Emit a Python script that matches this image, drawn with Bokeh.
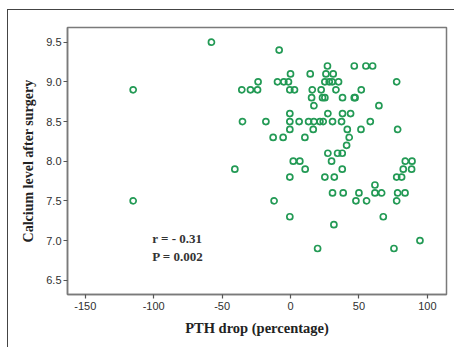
from bokeh.plotting import figure
from bokeh.models import ColumnDataSource, Range1d, FixedTicker, Label
from bokeh.embed import file_html
from bokeh.resources import INLINE

# PTH drop (%) and calcium level after surgery
pth_drop = [-57.8, -8.3, -115, -115, 46.6, 55.1, 60, 27,
            0, 14.4, 25.9, 31.2,
            -23.7, -9.5, -4.9, -1.5, 25.1, 28.3, 30.5, 35.1, 77.6,
            -35.6, -29.3, -24.1, -0.5, 2.9, 15.9, 22.4, 33.2, 51.7,
            15.4, 23.4, 25.1, 38, 46.6, 47.2,
            17.1, 64.6,
            -0.5, 27.3, 38, 43.9,
            -35.1, -18, -0.5, 6.3, 13.2, 17.1, 21.5, 23.9, 30.7, 37.3, 58.3,
            -0.5, 16.6, 41.5, 51.5, 78.3,
            -12.7, -5.4, 10.5, 42.9,
            41,
            27.3, 34.4, 37.8,
            2, 6.8, 30, 83.9, 88.8,
            -40.7, 10.7, 37.8, 82.4, 88.5,
            -0.5, 25.1, 32, 77.6, 81.2,
            61.7,
            30.7, 38.5, 50, 61.7, 66.6, 78.3, 83.7,
            -12, 47.8, 55.6, 77.6,
            -0.5, 67.8,
            31.7,
            94.6,
            19.8, 75.6]
calcium = [9.5, 9.4, 8.9, 7.5, 9.2, 9.2, 9.2, 9.2,
           9.1, 9.1, 9.1, 9.1,
           9.0, 9.0, 9.0, 9.0, 9.0, 9.0, 9.0, 9.0, 9.0,
           8.9, 8.9, 8.9, 8.9, 8.9, 8.9, 8.9, 8.9, 8.9,
           8.8, 8.8, 8.8, 8.8, 8.8, 8.8,
           8.7, 8.7,
           8.6, 8.6, 8.6, 8.6,
           8.5, 8.5, 8.5, 8.5, 8.5, 8.5, 8.5, 8.5, 8.5, 8.5, 8.5,
           8.4, 8.4, 8.4, 8.4, 8.4,
           8.3, 8.3, 8.3, 8.3,
           8.2,
           8.1, 8.1, 8.1,
           8.0, 8.0, 8.0, 8.0, 8.0,
           7.9, 7.9, 7.9, 7.9, 7.9,
           7.8, 7.8, 7.8, 7.8, 7.8,
           7.7,
           7.6, 7.6, 7.6, 7.6, 7.6, 7.6, 7.6,
           7.5, 7.5, 7.5, 7.5,
           7.3, 7.3,
           7.2,
           7.0,
           6.9, 6.9]

x_ticks = [-150, -100, -50, 0, 50, 100]
x_tick_labels = ["-150", "-100", "-50", "0", "50", "100"]
y_ticks = [6.5, 7.0, 7.5, 8.0, 8.5, 9.0, 9.5]
y_tick_labels = ["6.5", "7.0", "7.5", "8.0", "8.5", "9.0", "9.5"]

stats_lines = ["r = - 0.31", "P = 0.002"]

src = ColumnDataSource(dict(x=pth_drop, y=calcium))

p = figure(width=454, height=347, output_backend="svg", toolbar_location=None,
           x_range=Range1d(-163, 114), y_range=Range1d(6.32, 9.685),
           min_border_left=67, min_border_right=8, min_border_top=27,
           min_border_bottom=53)

# outer figure frame (only its top and left edges are inside the picture),
# drawn as a CSS background behind a transparent border area
p.border_fill_color = None
p.styles = {
    "background": ("linear-gradient(#444, #444) 7px 9px / 100% 1px no-repeat, "
                   "linear-gradient(#444, #444) 7px 9px / 1px 100% no-repeat, "
                   "#ffffff"),
}

p.scatter("x", "y", source=src, marker="circle", size=6, fill_color=None,
          line_color="#239a55", line_width=1.7)

p.xgrid.visible = False
p.ygrid.visible = False
p.background_fill_color = "#ffffff"
p.outline_line_color = "#7a7a7a"
p.outline_line_width = 1.5

for ax in (p.xaxis, p.yaxis):
    ax.axis_line_color = "#7a7a7a"
    ax.axis_line_width = 1.5
    ax.major_tick_line_color = "#555555"
    ax.major_tick_line_width = 1.2
    ax.major_tick_out = 4
    ax.major_tick_in = 0
    ax.minor_tick_line_color = None
    ax.major_label_text_font = "Liberation Sans"
    ax.major_label_text_font_size = "11px"
    ax.major_label_text_color = "#303030"
    ax.axis_label_text_font = "Liberation Serif"
    ax.axis_label_text_font_style = "bold"
    ax.axis_label_text_color = "#222222"

p.xaxis.axis_label_text_font_size = "14.5px"
p.yaxis.axis_label_text_font_size = "14px"
p.xaxis.ticker = FixedTicker(ticks=x_ticks)
p.xaxis.major_label_overrides = {t: l for t, l in zip(x_ticks, x_tick_labels)}
p.yaxis.ticker = FixedTicker(ticks=y_ticks)
p.yaxis.major_label_overrides = {t: l for t, l in zip(y_ticks, y_tick_labels)}
p.xaxis.axis_label = "PTH drop (percentage)"
p.yaxis.axis_label = "Calcium level after surgery"
p.xaxis.major_label_standoff = 3
p.yaxis.major_label_standoff = 2
p.xaxis.axis_label_standoff = 7
p.yaxis.axis_label_standoff = 7

for i, txt in enumerate(stats_lines):
    p.add_layout(Label(x=-101, y=7.02 - 0.215 * i, text=txt,
                       text_font="Liberation Serif", text_font_style="bold",
                       text_font_size="13px", text_color="#333333",
                       text_baseline="middle"))

open("out.html", "w").write(file_html(p, INLINE))
